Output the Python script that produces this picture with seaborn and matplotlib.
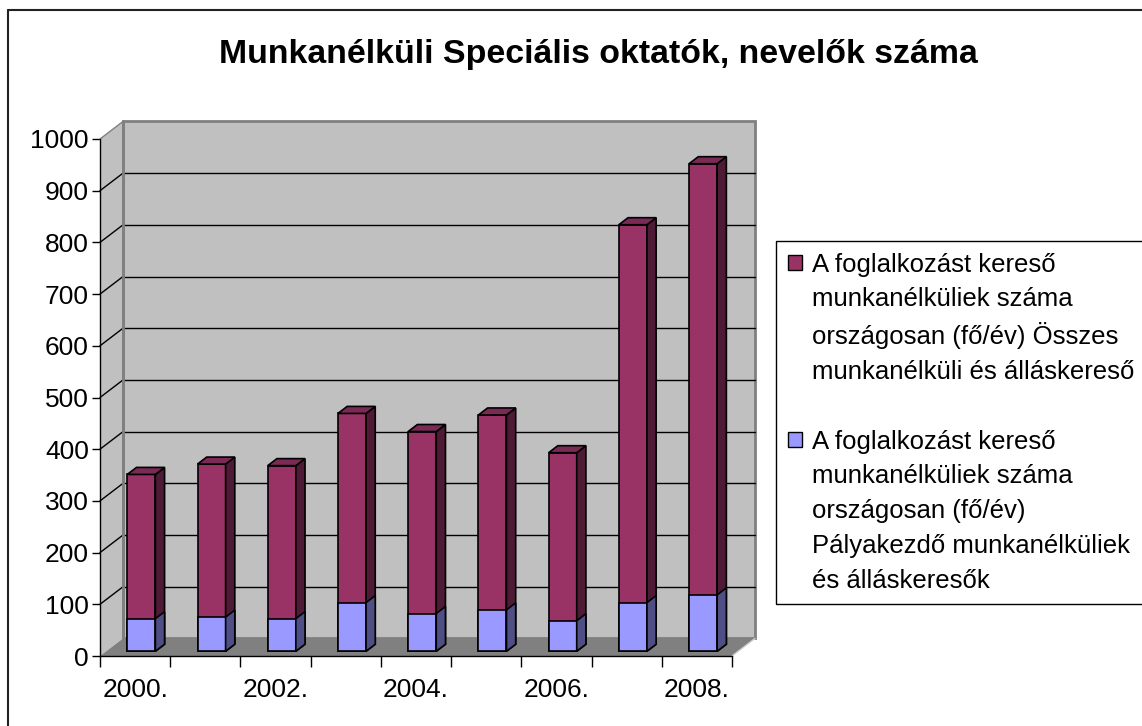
import numpy as np
import matplotlib
matplotlib.use("Agg")
import matplotlib.pyplot as plt
from matplotlib.patches import Polygon, Patch
from matplotlib.lines import Line2D
import seaborn as sns
import pandas as pd

# adatok
evek = [2000, 2001, 2002, 2003, 2004, 2005, 2006, 2007, 2008]
palyakezdo = [63, 66, 63, 94, 73, 80, 59, 94, 109]
osszes = [279, 296, 296, 366, 352, 377, 325, 731, 834]
tick_cimkek = ["2000.", "2002.", "2004.", "2006.", "2008."]
cim = "Munkanélküli Speciális oktatók, nevelők száma"
cimke_osszes = ["A foglalkozást kereső", "munkanélküliek száma",
                "országosan (fő/év) Összes", "munkanélküli és álláskereső"]
cimke_palya = ["A foglalkozást kereső", "munkanélküliek száma",
               "országosan (fő/év)", "Pályakezdő munkanélküliek", "és álláskeresők"]

szin_osszes = "#993366"
szin_palya = "#9999ff"

sns.set_style("white")
plt.rcParams['font.family'] = ['Liberation Sans', 'DejaVu Sans']
plt.rcParams['text.color'] = 'black'
plt.rcParams['xtick.color'] = 'black'
plt.rcParams['ytick.color'] = 'black'
plt.rcParams['xtick.labelcolor'] = 'black'
plt.rcParams['ytick.labelcolor'] = 'black'

W, H = 1142, 726
fig = plt.figure(figsize=(W / 100, H / 100), dpi=100)
ax = fig.add_axes([100 / W, 70 / H, 632 / W, 517 / H])
ax.patch.set_visible(False)

df = pd.DataFrame({'ev': [str(e) for e in evek], 'palya': palyakezdo, 'osszes': osszes})
df['teteje'] = df['palya'] + df['osszes']

# 3D eltolás (adatkoordinátában)
DX, DY = 0.328, 34.0
F = 0.27   # oszlop elülső lapjának mélysége
D = 0.40   # oszlop mélysége

# hátfal, oldalfal, padló
ax.add_patch(Polygon([(-0.5, 0), (-0.5 + DX, DY), (-0.5 + DX, 1000 + DY), (-0.5, 1000)],
                     closed=True, fc='#c0c0c0', ec='none', zorder=0, clip_on=False))
ax.add_patch(Polygon([(-0.5 + DX, DY), (8.5 + DX, DY), (8.5 + DX, 1000 + DY), (-0.5 + DX, 1000 + DY)],
                     closed=True, fc='#c0c0c0', ec='#808080', lw=2, zorder=0, clip_on=False))
for v in range(100, 1001, 100):
    c = 'black' if v < 1000 else '#808080'
    ax.plot([-0.5, -0.5 + DX], [v, v + DY], color=c, lw=1, zorder=1, clip_on=False)
    if v < 1000:
        ax.plot([-0.5 + DX, 8.5 + DX], [v + DY, v + DY], color=c, lw=1, zorder=1, clip_on=False)
ax.plot([-0.5 + DX, -0.5 + DX], [DY, 1000 + DY], color='#808080', lw=2, zorder=1, clip_on=False)
ax.add_patch(Polygon([(-0.5, 0), (8.5, 0), (8.5 + DX, DY), (-0.5 + DX, DY)],
                     closed=True, fc='#808080', ec='none', zorder=1, clip_on=False))
ax.plot([8.5, 8.5 + DX], [0, DY], color='#d0d0d0', lw=1, zorder=1, clip_on=False)


def oszlop_3d(patches, oldal, fedo, z):
    for p in patches:
        x, y = p.get_x() + F * DX, p.get_y() + F * DY
        w, h = p.get_width(), p.get_height()
        p.set_x(x)
        p.set_y(y)
        p.set_zorder(z)
        p.set_clip_on(False)
        ax.add_patch(Polygon([(x + w, y), (x + w + D * DX, y + D * DY), (x + w + D * DX, y + h + D * DY), (x + w, y + h)],
                             closed=True, fc=oldal, ec='black', lw=1.2, zorder=z, clip_on=False))
        if fedo is not None:
            ax.add_patch(Polygon([(x, y + h), (x + w, y + h), (x + w + D * DX, y + h + D * DY), (x + D * DX, y + h + D * DY)],
                                 closed=True, fc=fedo, ec='black', lw=1.2, zorder=z, clip_on=False))


n0 = len(ax.patches)
sns.barplot(data=df, x='ev', y='teteje', color=szin_osszes, saturation=1, width=0.4,
            edgecolor='black', linewidth=1.2, ax=ax)
pink = ax.patches[n0:]
oszlop_3d(pink, '#4f1a35', '#7a2a55', 3)
n1 = len(ax.patches)
sns.barplot(data=df, x='ev', y='palya', color=szin_palya, saturation=1, width=0.4,
            edgecolor='black', linewidth=1.2, ax=ax)
kek = ax.patches[n1:]
oszlop_3d(kek, '#4f4f85', None, 4)

ax.set_xlim(-0.5, 8.5)
ax.set_ylim(0, 1000)
ax.set_yticks(range(0, 1001, 100))
ax.set_xticks(np.arange(-0.5, 9, 1))
ax.set_xticklabels([])
ax.set_xticks([0, 2, 4, 6, 8], minor=True)
ax.set_xticklabels(tick_cimkek, minor=True)
ax.set_xlabel('')
ax.set_ylabel('')
ax.tick_params(axis='y', left=True, direction='out', length=6, width=1, color='black', labelsize=19, pad=2)
ax.tick_params(axis='x', which='major', bottom=True, direction='out', length=8, width=1, color='black')
ax.tick_params(axis='x', which='minor', bottom=True, length=0, labelsize=19, pad=16)
for s in ['top', 'right']:
    ax.spines[s].set_visible(False)
for s in ['left', 'bottom']:
    ax.spines[s].set_color('black')
    ax.spines[s].set_linewidth(1)
    ax.spines[s].set_zorder(5)

fig.text(598 / W, 1 - 55 / H, cim, ha='center', va='center', fontsize=24.4, fontweight='bold')

# jelmagyarázat soronként
ures = Patch(fc='none', ec='none')
kezelok = [Patch(fc=szin_osszes, ec='black')] + [ures] * (len(cimke_osszes) - 1) + [ures] + \
          [Patch(fc=szin_palya, ec='black')] + [ures] * (len(cimke_palya) - 1)
szovegek = cimke_osszes + [''] + cimke_palya
leg = fig.legend(kezelok, szovegek, loc='upper left', bbox_to_anchor=(776 / W, 1 - 241 / H),
                 bbox_transform=fig.transFigure, borderaxespad=0, fontsize=18.5, frameon=True,
                 fancybox=False, framealpha=1, edgecolor='black', handlelength=0.55, handleheight=0.55,
                 handletextpad=0.4, labelspacing=0.42, borderpad=0.45)
leg.get_frame().set_linewidth(1)

# keret
fig.add_artist(Line2D([8 / W, 8 / W], [0, 1 - 10 / H], transform=fig.transFigure, color='#222222', lw=1.5))
fig.add_artist(Line2D([8 / W, 1], [1 - 10 / H, 1 - 10 / H], transform=fig.transFigure, color='#222222', lw=1.5))

plt.savefig("out.png", dpi=100)
